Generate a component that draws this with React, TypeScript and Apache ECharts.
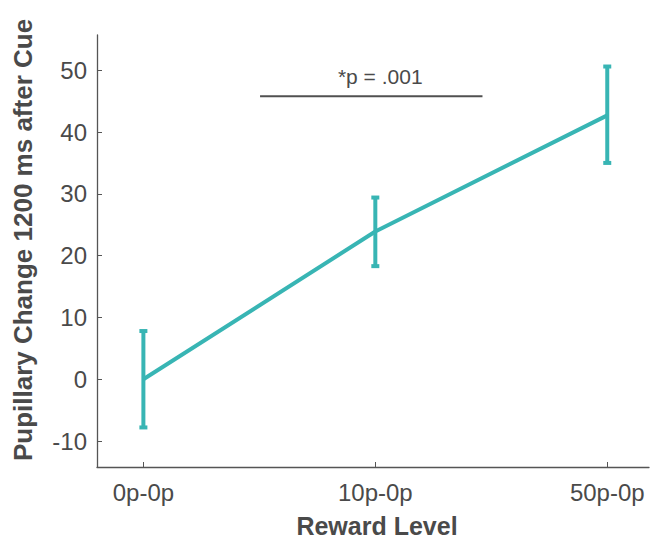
import React, { useEffect, useRef } from "react";
import * as echarts from "echarts";

const categories = ["0p-0p", "10p-0p", "50p-0p"];
const means = [0, 23.9, 42.7];
const lower = [-7.8, 18.3, 35.0];
const upper = [7.8, 29.4, 50.6];
const yTicks = [-10, 0, 10, 20, 30, 40, 50];
const sigStart = 0.503;
const sigEnd = 1.462;
const sigLevel = 45.8;
const sigLabel = "*p = .001";

const TEAL = "#38b5b4";
const AXIS = "#555555";
const TEXT = "#4a4a4a";
const FONT = "'Liberation Sans', Arial, Helvetica, sans-serif";

export default function App() {
  const ref = useRef<HTMLDivElement>(null);
  useEffect(() => {
    if (!ref.current) return;
    const chart = echarts.init(ref.current, null, { renderer: "svg" });
    const idx = categories.map((_, i) => i);
    const option: any = {
      animation: false,
      textStyle: { fontFamily: FONT },
      grid: { left: 97, right: 1, top: 35, bottom: 74 },
      xAxis: {
        type: "value",
        min: -0.2,
        max: 2.18,
        splitLine: { show: false },
        axisLine: { show: true, onZero: false, lineStyle: { color: AXIS, width: 1.3 } },
        axisTick: { show: true, inside: true, length: 5, customValues: idx, lineStyle: { color: AXIS } },
        axisLabel: {
          customValues: idx,
          formatter: (v: number) => categories[Math.round(v)] ?? "",
          color: TEXT,
          fontSize: 24,
          fontFamily: FONT,
          margin: 13,
        },
      },
      yAxis: {
        type: "value",
        min: -14.2,
        max: 55.7,
        splitLine: { show: false },
        axisLine: { show: true, onZero: false, lineStyle: { color: AXIS, width: 1.3 } },
        axisTick: { show: true, inside: true, length: 5, customValues: yTicks, lineStyle: { color: AXIS } },
        axisLabel: {
          customValues: yTicks,
          color: TEXT,
          fontSize: 24,
          fontFamily: FONT,
          margin: 10,
        },
      },
      graphic: [
        {
          type: "text",
          style: {
            text: "Reward Level",
            fontSize: 25,
            fontWeight: "bold",
            fill: TEXT,
            fontFamily: FONT,
            x: 377,
            y: 526,
            textAlign: "center",
            textVerticalAlign: "middle",
          },
        },
        {
          type: "text",
          x: 23,
          y: 240,
          rotation: Math.PI / 2,
          style: {
            text: "Pupillary Change 1200 ms after Cue",
            fontSize: 26,
            fontWeight: "bold",
            fill: TEXT,
            fontFamily: FONT,
            textAlign: "center",
            textVerticalAlign: "middle",
          },
        },
      ],
      series: [
        {
          type: "line",
          data: idx.map((i) => [i, means[i]]),
          symbol: "none",
          lineStyle: { color: TEAL, width: 4 },
          z: 3,
        },
        {
          type: "custom",
          data: idx.map((i) => [i, lower[i], upper[i]]),
          renderItem: (params: any, api: any) => {
            const x = api.value(0);
            const lo = api.coord([x, api.value(1)]);
            const hi = api.coord([x, api.value(2)]);
            const cw = 4;
            return {
              type: "group",
              children: [
                { type: "line", shape: { x1: lo[0], y1: lo[1], x2: hi[0], y2: hi[1] }, style: { stroke: TEAL, lineWidth: 4 } },
                { type: "rect", shape: { x: lo[0] - cw, y: lo[1] - 2, width: cw * 2, height: 4 }, style: { fill: TEAL } },
                { type: "rect", shape: { x: hi[0] - cw, y: hi[1] - 2, width: cw * 2, height: 4 }, style: { fill: TEAL } },
              ],
            };
          },
          z: 4,
        },
        {
          type: "custom",
          data: [[sigStart, sigEnd, sigLevel]],
          renderItem: (params: any, api: any) => {
            const a = api.coord([api.value(0), api.value(2)]);
            const b = api.coord([api.value(1), api.value(2)]);
            return {
              type: "group",
              children: [
                { type: "line", shape: { x1: a[0], y1: a[1], x2: b[0], y2: b[1] }, style: { stroke: "#505050", lineWidth: 2 } },
                {
                  type: "text",
                  style: {
                    text: sigLabel,
                    x: (a[0] + b[0]) / 2 + 9,
                    y: a[1] - 20,
                    fontSize: 21,
                    fill: TEXT,
                    fontFamily: FONT,
                    textAlign: "center",
                    textVerticalAlign: "middle",
                  },
                },
              ],
            };
          },
          z: 5,
        },
      ],
    };
    chart.setOption(option);
    return () => chart.dispose();
  }, []);
  return <div ref={ref} style={{ width: 650, height: 541, position: "absolute", left: 0, top: 0 }} />;
}
